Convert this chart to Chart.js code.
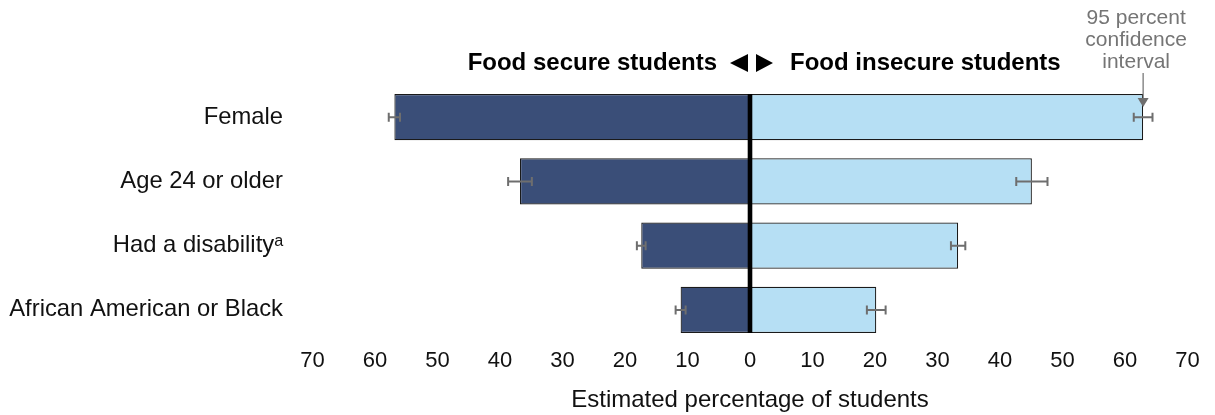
<!DOCTYPE html>
<html>
<head>
<meta charset="utf-8">
<script src="https://cdn.jsdelivr.net/npm/chart.js@4"></script>
<style>
  html, body { margin: 0; padding: 0; background: #fff; }
  #wrap { width: 1215px; height: 415px; }
</style>
</head>
<body>
<div id="wrap"><canvas id="myChart"></canvas></div>
<script>
// categories and values
var categories = ["Female", "Age 24 or older", "Had a disability\u1d43", "African American or Black"];
var secureValues = [56.9, 36.8, 17.4, 11.1];
var insecureValues = [62.9, 45.1, 33.3, 20.2];
// half width of the 95 percent confidence interval
var secureMargin = [0.9, 1.9, 0.7, 0.8];
var insecureMargin = [1.5, 2.5, 1.15, 1.5];
var xTicks = [-70, -60, -50, -40, -30, -20, -10, 0, 10, 20, 30, 40, 50, 60, 70];

var darkBlue = "#3a4e78";
var lightBlue = "#b6dff4";
var ciGray = "#6e6e6e";

// error bars, centre line, heading and note
var extras = {
  id: "extras",
  afterDatasetsDraw: function(chart) {
    var ctx = chart.ctx;
    var x = chart.scales.x;
    var m0 = chart.getDatasetMeta(0);
    var m1 = chart.getDatasetMeta(1);

    ctx.save();
    ctx.strokeStyle = ciGray;
    ctx.lineWidth = 2;
    function ci(v, m, y) {
      var a = x.getPixelForValue(v - m);
      var b = x.getPixelForValue(v + m);
      ctx.beginPath();
      ctx.moveTo(a, y); ctx.lineTo(b, y);
      ctx.moveTo(a, y - 4.5); ctx.lineTo(a, y + 4.5);
      ctx.moveTo(b, y - 4.5); ctx.lineTo(b, y + 4.5);
      ctx.stroke();
    }
    for (var i = 0; i < categories.length; i++) {
      ci(-secureValues[i], secureMargin[i], m0.data[i].y);
      ci(insecureValues[i], insecureMargin[i], m1.data[i].y);
    }

    // thick zero line
    var first = m0.data[0], last = m0.data[categories.length - 1];
    var zx = x.getPixelForValue(0);
    ctx.fillStyle = "#000";
    ctx.fillRect(zx - 2.3, first.y - first.height / 2, 4.6, (last.y + last.height / 2) - (first.y - first.height / 2));

    // heading with arrows
    var hy = 63;
    ctx.font = "bold 24px 'Liberation Sans', Arial, sans-serif";
    ctx.textBaseline = "middle";
    ctx.textAlign = "right";
    ctx.fillText("Food secure students", zx - 33, hy);
    ctx.textAlign = "left";
    ctx.fillText("Food insecure students", zx + 40, hy);
    ctx.beginPath();
    ctx.moveTo(zx - 20, hy); ctx.lineTo(zx - 2, hy - 9); ctx.lineTo(zx - 2, hy + 9); ctx.closePath();
    ctx.moveTo(zx + 23, hy); ctx.lineTo(zx + 6, hy - 9); ctx.lineTo(zx + 6, hy + 9); ctx.closePath();
    ctx.fill();

    // confidence interval note
    var ax = x.getPixelForValue(insecureValues[0]);
    var barTop = m1.data[0].y - m1.data[0].height / 2;
    ctx.fillStyle = "#757575";
    ctx.strokeStyle = ciGray;
    ctx.lineWidth = 1.2;
    ctx.font = "21px 'Liberation Sans', Arial, sans-serif";
    ctx.textAlign = "center";
    ctx.fillText("95 percent", ax - 7, 18);
    ctx.fillText("confidence", ax - 7, 40);
    ctx.fillText("interval", ax - 7, 62);
    ctx.beginPath();
    ctx.moveTo(ax, 73); ctx.lineTo(ax, barTop + 5);
    ctx.stroke();
    ctx.fillStyle = ciGray;
    ctx.beginPath();
    ctx.moveTo(ax - 5.5, barTop + 4); ctx.lineTo(ax + 5.5, barTop + 4); ctx.lineTo(ax, barTop + 13); ctx.closePath();
    ctx.fill();
    ctx.restore();
  }
};

var ctx = document.getElementById("myChart").getContext("2d");
var myChart = new Chart(ctx, {
  type: "bar",
  data: {
    labels: categories,
    datasets: [
      {
        label: "Food secure students",
        data: secureValues.map(function(v) { return -v; }),
        backgroundColor: darkBlue,
        borderColor: "#1a1a1a",
        borderWidth: 1.2,
        borderSkipped: "start"
      },
      {
        label: "Food insecure students",
        data: insecureValues,
        backgroundColor: lightBlue,
        borderColor: "#1a1a1a",
        borderWidth: 1.2,
        borderSkipped: "start"
      }
    ]
  },
  options: {
    indexAxis: "y",
    responsive: true,
    maintainAspectRatio: false,
    animation: false,
    datasets: { bar: { categoryPercentage: 0.72, barPercentage: 1 } },
    layout: { padding: { top: 85, left: 0, right: 27.5, bottom: 0 } },
    plugins: { legend: { display: false }, tooltip: { enabled: false } },
    scales: {
      x: {
        min: -70,
        max: 70,
        afterFit: function(s) { s.height = 73; },
        afterBuildTicks: function(s) { s.ticks = xTicks.map(function(v) { return { value: v }; }); },
        grid: { display: false, drawTicks: false },
        border: { display: false },
        ticks: {
          padding: 6,
          color: "#111",
          font: { size: 22, family: "'Liberation Sans', Arial, sans-serif" },
          callback: function(v) { return Math.abs(v); }
        },
        title: {
          display: true,
          text: "Estimated percentage of students",
          color: "#111",
          padding: { top: 0, bottom: 0 },
          font: { size: 24, family: "'Liberation Sans', Arial, sans-serif" }
        }
      },
      y: {
        stacked: true,
        afterFit: function(s) { s.width = 312.5; },
        grid: { display: false, drawTicks: false },
        border: { display: false },
        ticks: {
          padding: 29.5,
          color: "#111",
          font: { size: 23.8, family: "'Liberation Sans', Arial, sans-serif" }
        }
      }
    }
  },
  plugins: [extras]
});
</script>
</body>
</html>
